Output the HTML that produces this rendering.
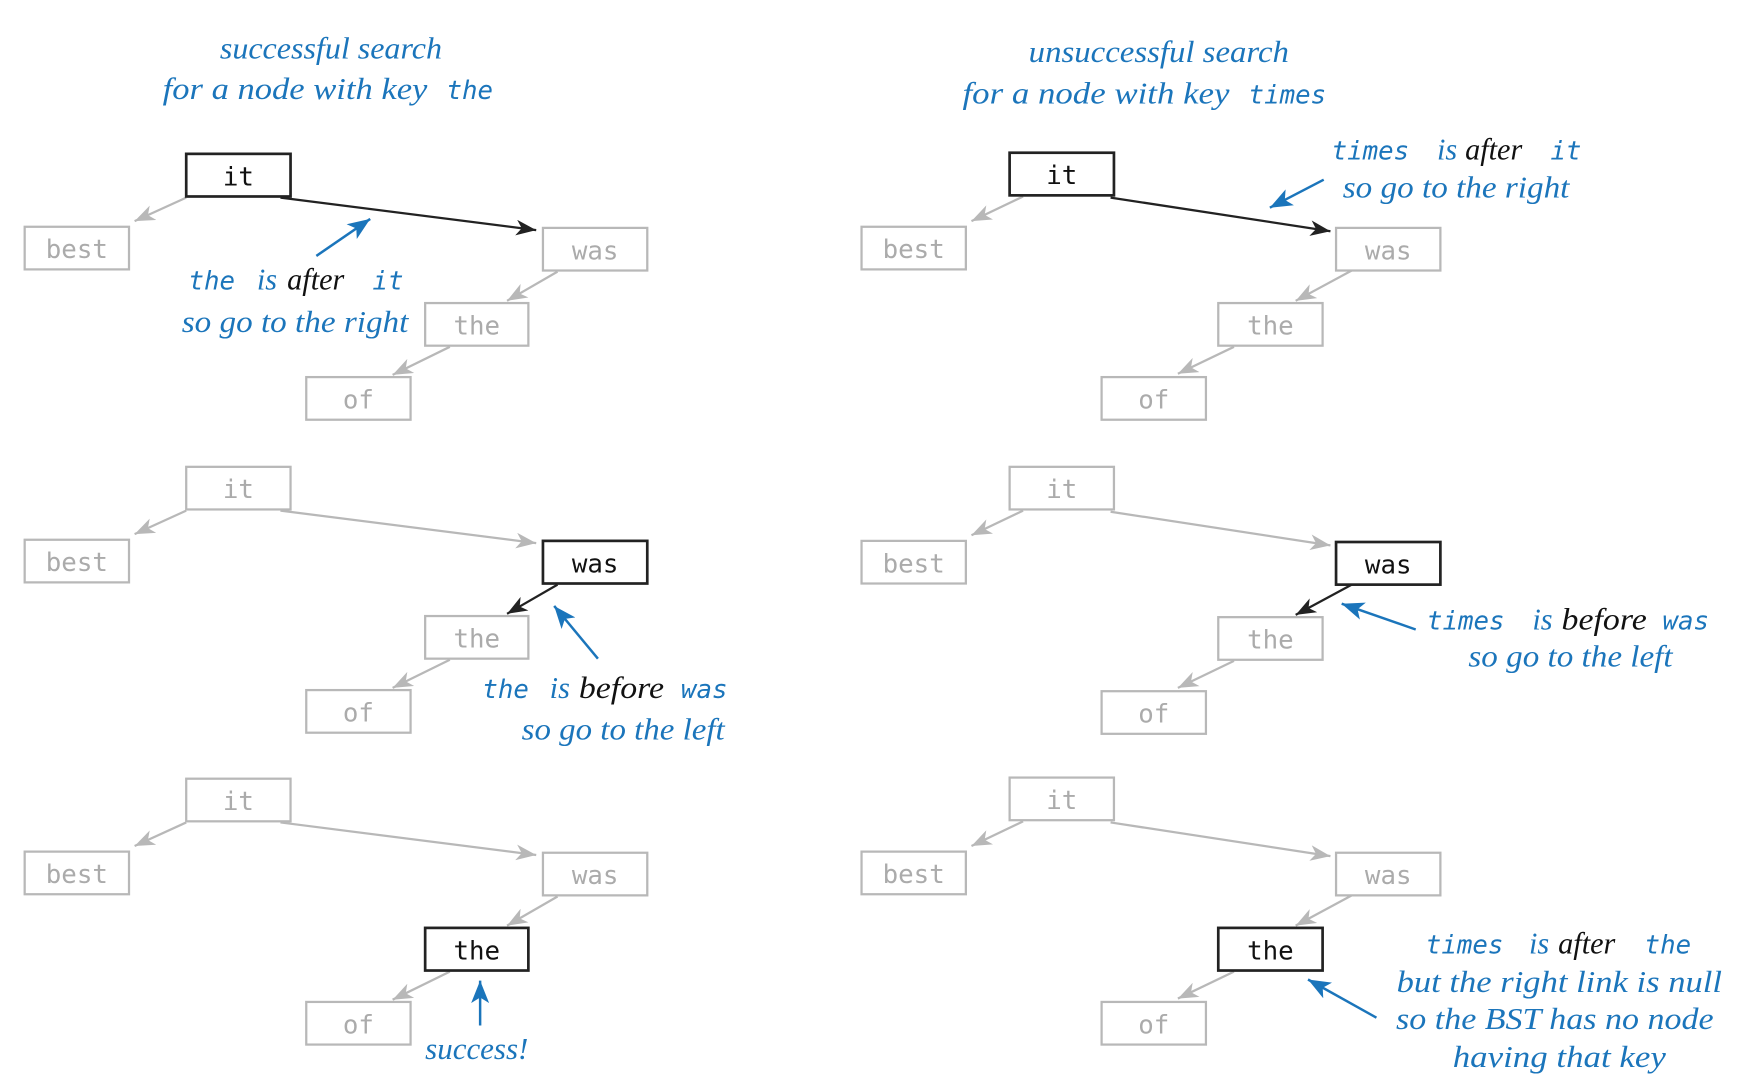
<!DOCTYPE html>
<html><head><meta charset="utf-8"><style>
html,body{margin:0;padding:0;background:#fff;width:1750px;height:1084px;overflow:hidden}
svg{display:block}
.n{fill:#fff;stroke:#b8b8b8;stroke-width:2}
.nb{fill:#fff;stroke:#222;stroke-width:2.4}
.t{font-family:"DejaVu Sans Mono","Liberation Mono",monospace;font-size:23px;fill:#ababab;text-anchor:middle}
.tb{font-family:"DejaVu Sans Mono","Liberation Mono",monospace;font-size:23px;fill:#111;text-anchor:middle}
.g{stroke:#b8b8b8;stroke-width:2;fill:none}
.k{stroke:#222;stroke-width:2;fill:none}
.b{stroke:#1b75bb;stroke-width:2.2;fill:none}
.i{font-family:"Liberation Serif",serif;font-style:italic;font-size:27px;fill:#1b75bb}
.m{font-family:"DejaVu Sans Mono","Liberation Mono",monospace;font-style:italic;font-size:23px;fill:#1b75bb}
.blk{fill:#111}
</style></head><body>
<svg width="1750" height="1084" viewBox="0 0 1560 966" xmlns="http://www.w3.org/2000/svg">
<defs>
<marker id="ag" markerUnits="userSpaceOnUse" markerWidth="20" markerHeight="14" refX="18" refY="7" orient="auto"><path d="M0,0 L18,7 L0,14 L5,7 Z" fill="#b8b8b8"/></marker>
<marker id="ak" markerUnits="userSpaceOnUse" markerWidth="20" markerHeight="14" refX="18" refY="7" orient="auto"><path d="M0,0 L18,7 L0,14 L5,7 Z" fill="#222"/></marker>
<marker id="ab" markerUnits="userSpaceOnUse" markerWidth="22" markerHeight="16" refX="20" refY="8" orient="auto"><path d="M0,0 L20,8 L0,16 L5,8 Z" fill="#1b75bb"/></marker>
</defs>

<g>
<line class="g" x1="166" y1="176" x2="120" y2="197" marker-end="url(#ag)"/>
<line class="k" x1="250" y1="176" x2="478" y2="205" marker-end="url(#ak)"/>
<line class="g" x1="497" y1="242" x2="452" y2="268" marker-end="url(#ag)"/>
<line class="g" x1="401" y1="309" x2="350" y2="334" marker-end="url(#ag)"/>
<rect class="nb" x="166" y="137" width="93" height="38"/><text class="tb" x="212.5" y="165">it</text>
<rect class="n" x="22" y="202" width="93" height="38"/><text class="t" x="68.5" y="230">best</text>
<rect class="n" x="484" y="203" width="93" height="38"/><text class="t" x="530.5" y="231">was</text>
<rect class="n" x="379" y="270" width="92" height="38"/><text class="t" x="425" y="298">the</text>
<rect class="n" x="273" y="336" width="93" height="38"/><text class="t" x="319.5" y="364">of</text>
</g>
<g transform="translate(0,279)">
<line class="g" x1="166" y1="176" x2="120" y2="197" marker-end="url(#ag)"/>
<line class="g" x1="250" y1="176" x2="478" y2="205" marker-end="url(#ag)"/>
<line class="k" x1="497" y1="242" x2="452" y2="268" marker-end="url(#ak)"/>
<line class="g" x1="401" y1="309" x2="350" y2="334" marker-end="url(#ag)"/>
<rect class="n" x="166" y="137" width="93" height="38"/><text class="t" x="212.5" y="165">it</text>
<rect class="n" x="22" y="202" width="93" height="38"/><text class="t" x="68.5" y="230">best</text>
<rect class="nb" x="484" y="203" width="93" height="38"/><text class="tb" x="530.5" y="231">was</text>
<rect class="n" x="379" y="270" width="92" height="38"/><text class="t" x="425" y="298">the</text>
<rect class="n" x="273" y="336" width="93" height="38"/><text class="t" x="319.5" y="364">of</text>
</g>
<g transform="translate(0,557)">
<line class="g" x1="166" y1="176" x2="120" y2="197" marker-end="url(#ag)"/>
<line class="g" x1="250" y1="176" x2="478" y2="205" marker-end="url(#ag)"/>
<line class="g" x1="497" y1="242" x2="452" y2="268" marker-end="url(#ag)"/>
<line class="g" x1="401" y1="309" x2="350" y2="334" marker-end="url(#ag)"/>
<rect class="n" x="166" y="137" width="93" height="38"/><text class="t" x="212.5" y="165">it</text>
<rect class="n" x="22" y="202" width="93" height="38"/><text class="t" x="68.5" y="230">best</text>
<rect class="n" x="484" y="203" width="93" height="38"/><text class="t" x="530.5" y="231">was</text>
<rect class="nb" x="379" y="270" width="92" height="38"/><text class="tb" x="425" y="298">the</text>
<rect class="n" x="273" y="336" width="93" height="38"/><text class="t" x="319.5" y="364">of</text>
</g>

<g>
<line class="g" x1="912" y1="175" x2="866" y2="197" marker-end="url(#ag)"/>
<line class="k" x1="990" y1="176" x2="1186" y2="206" marker-end="url(#ak)"/>
<line class="g" x1="1205" y1="241" x2="1155" y2="268" marker-end="url(#ag)"/>
<line class="g" x1="1100" y1="309" x2="1050" y2="333" marker-end="url(#ag)"/>
<rect class="nb" x="900" y="136" width="93" height="38"/><text class="tb" x="946.5" y="164">it</text>
<rect class="n" x="768" y="202" width="93" height="38"/><text class="t" x="814.5" y="230">best</text>
<rect class="n" x="1191" y="203" width="93" height="38"/><text class="t" x="1237.5" y="231">was</text>
<rect class="n" x="1086" y="270" width="93" height="38"/><text class="t" x="1132.5" y="298">the</text>
<rect class="n" x="982" y="336" width="93" height="38"/><text class="t" x="1028.5" y="364">of</text>
</g>
<g transform="translate(0,280)">
<line class="g" x1="912" y1="175" x2="866" y2="197" marker-end="url(#ag)"/>
<line class="g" x1="990" y1="176" x2="1186" y2="206" marker-end="url(#ag)"/>
<line class="k" x1="1205" y1="241" x2="1155" y2="268" marker-end="url(#ak)"/>
<line class="g" x1="1100" y1="309" x2="1050" y2="333" marker-end="url(#ag)"/>
<rect class="n" x="900" y="136" width="93" height="38"/><text class="t" x="946.5" y="164">it</text>
<rect class="n" x="768" y="202" width="93" height="38"/><text class="t" x="814.5" y="230">best</text>
<rect class="nb" x="1191" y="203" width="93" height="38"/><text class="tb" x="1237.5" y="231">was</text>
<rect class="n" x="1086" y="270" width="93" height="38"/><text class="t" x="1132.5" y="298">the</text>
<rect class="n" x="982" y="336" width="93" height="38"/><text class="t" x="1028.5" y="364">of</text>
</g>
<g transform="translate(0,557)">
<line class="g" x1="912" y1="175" x2="866" y2="197" marker-end="url(#ag)"/>
<line class="g" x1="990" y1="176" x2="1186" y2="206" marker-end="url(#ag)"/>
<line class="g" x1="1205" y1="241" x2="1155" y2="268" marker-end="url(#ag)"/>
<line class="g" x1="1100" y1="309" x2="1050" y2="333" marker-end="url(#ag)"/>
<rect class="n" x="900" y="136" width="93" height="38"/><text class="t" x="946.5" y="164">it</text>
<rect class="n" x="768" y="202" width="93" height="38"/><text class="t" x="814.5" y="230">best</text>
<rect class="n" x="1191" y="203" width="93" height="38"/><text class="t" x="1237.5" y="231">was</text>
<rect class="nb" x="1086" y="270" width="93" height="38"/><text class="tb" x="1132.5" y="298">the</text>
<rect class="n" x="982" y="336" width="93" height="38"/><text class="t" x="1028.5" y="364">of</text>
</g>

<text class="i" x="295" y="52" text-anchor="middle" textLength="198" lengthAdjust="spacingAndGlyphs">successful search</text>
<text class="i" x="145" y="88" textLength="236" lengthAdjust="spacingAndGlyphs">for a node with key</text>
<text class="m" x="398" y="88">the</text>

<line class="b" x1="282" y1="228" x2="330" y2="195" marker-end="url(#ab)"/>
<text class="m" x="168" y="258">the</text>
<text class="i" x="229" y="258">is</text><text class="i blk" x="256" y="258">after</text>
<text class="m" x="332" y="258">it</text>
<text class="i" x="162" y="296" textLength="202" lengthAdjust="spacingAndGlyphs">so go to the right</text>

<line class="b" x1="533" y1="587" x2="494" y2="540" marker-end="url(#ab)"/>
<text class="m" x="430" y="622">the</text>
<text class="i" x="490" y="622">is</text><text class="i blk" x="516" y="622" textLength="76" lengthAdjust="spacingAndGlyphs">before</text>
<text class="m" x="607" y="622">was</text>
<text class="i" x="465" y="659" textLength="181" lengthAdjust="spacingAndGlyphs">so go to the left</text>

<line class="b" x1="428" y1="914" x2="428" y2="874" marker-end="url(#ab)"/>
<text class="i" x="425" y="944" text-anchor="middle" textLength="92" lengthAdjust="spacingAndGlyphs">success!</text>

<text class="i" x="1033" y="55" text-anchor="middle" textLength="232" lengthAdjust="spacingAndGlyphs">unsuccessful search</text>
<text class="i" x="858" y="92" textLength="238" lengthAdjust="spacingAndGlyphs">for a node with key</text>
<text class="m" x="1113" y="92">times</text>

<line class="b" x1="1180" y1="160" x2="1132" y2="185" marker-end="url(#ab)"/>
<text class="m" x="1187" y="142">times</text>
<text class="i" x="1281" y="142">is</text><text class="i blk" x="1306" y="142">after</text>
<text class="m" x="1382" y="142">it</text>
<text class="i" x="1197" y="176" textLength="202" lengthAdjust="spacingAndGlyphs">so go to the right</text>

<line class="b" x1="1262" y1="561" x2="1196" y2="538" marker-end="url(#ab)"/>
<text class="m" x="1272" y="561">times</text>
<text class="i" x="1366" y="561">is</text><text class="i blk" x="1392" y="561" textLength="76" lengthAdjust="spacingAndGlyphs">before</text>
<text class="m" x="1482" y="561">was</text>
<text class="i" x="1309" y="594" textLength="182" lengthAdjust="spacingAndGlyphs">so go to the left</text>

<line class="b" x1="1227" y1="907" x2="1166" y2="873" marker-end="url(#ab)"/>
<text class="m" x="1271" y="850">times</text>
<text class="i" x="1363" y="850">is</text><text class="i blk" x="1389" y="850">after</text>
<text class="m" x="1466" y="850">the</text>
<text class="i" x="1390" y="884" text-anchor="middle" textLength="290" lengthAdjust="spacingAndGlyphs">but the right link is null</text>
<text class="i" x="1386" y="917" text-anchor="middle" textLength="283" lengthAdjust="spacingAndGlyphs">so the BST has no node</text>
<text class="i" x="1390" y="951" text-anchor="middle" textLength="190" lengthAdjust="spacingAndGlyphs">having that key</text>
</svg>
</body></html>
